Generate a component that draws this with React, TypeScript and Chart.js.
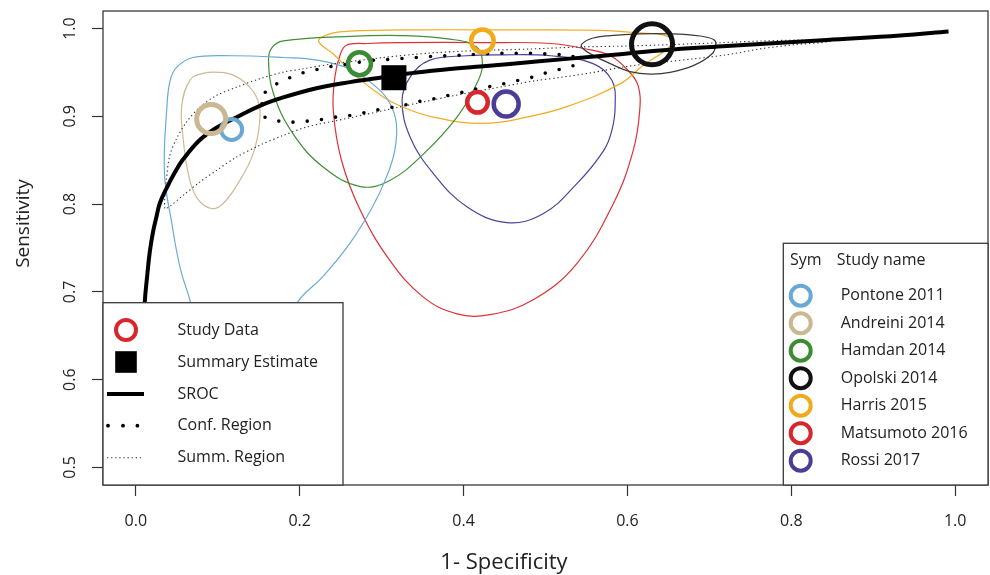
import React, { useEffect, useRef } from "react";
import { Chart, registerables } from "chart.js";

Chart.register(...registerables);

// ---------- data ----------
const xTickValues = [0, 0.2, 0.4, 0.6, 0.8, 1.0];
const yTickValues = [0.5, 0.6, 0.7, 0.8, 0.9, 1.0];
const xTitle = "1- Specificity";
const yTitle = "Sensitivity";

const studyNames = ["Pontone 2011", "Andreini 2014", "Hamdan 2014", "Opolski 2014", "Harris 2015", "Matsumoto 2016", "Rossi 2017"];
const studyFpr = [0.117, 0.092, 0.273, 0.630, 0.423, 0.417, 0.452];
const studySens = [0.885, 0.897, 0.960, 0.982, 0.986, 0.916, 0.914];

const summaryFpr = [0.315];
const summarySens = [0.944];

const srocFpr = [0.0098, 0.011, 0.014, 0.017, 0.021, 0.0256, 0.0293, 0.0375, 0.0476, 0.0578, 0.0781, 0.0985, 0.123, 0.1514, 0.1799, 0.2206, 0.2613, 0.302, 0.3427, 0.3834, 0.424, 0.489, 0.5706, 0.6398, 0.7213, 0.8433, 0.9328, 0.9918];
const srocSens = [0.656, 0.689, 0.719, 0.745, 0.768, 0.787, 0.801, 0.818, 0.836, 0.851, 0.873, 0.887, 0.899, 0.912, 0.9215, 0.932, 0.939, 0.9446, 0.950, 0.954, 0.957, 0.9625, 0.969, 0.975, 0.980, 0.987, 0.992, 0.9966];

const confRegion = [[0.158, 0.9275], [0.172, 0.937], [0.188, 0.944], [0.204, 0.9496], [0.221, 0.9534], [0.238, 0.9568], [0.255, 0.959], [0.273, 0.9617], [0.290, 0.9639], [0.307, 0.9647], [0.325, 0.9659], [0.343, 0.967], [0.360, 0.9681], [0.377, 0.9689], [0.395, 0.9696], [0.412, 0.9704], [0.429, 0.9712], [0.447, 0.9718], [0.464, 0.9718], [0.481, 0.9718], [0.499, 0.9712], [0.517, 0.9704], [0.530, 0.9695], [0.540, 0.9636], [0.534, 0.9579], [0.517, 0.9534], [0.499, 0.9491], [0.484, 0.9446], [0.466, 0.9408], [0.449, 0.9371], [0.432, 0.934], [0.416, 0.9314], [0.399, 0.9275], [0.381, 0.9238], [0.364, 0.920], [0.347, 0.9173], [0.330, 0.9132], [0.313, 0.9105], [0.296, 0.9075], [0.279, 0.9041], [0.261, 0.901], [0.244, 0.8991], [0.227, 0.8965], [0.209, 0.8945], [0.192, 0.8934], [0.175, 0.8945], [0.1575, 0.8991], [0.154, 0.9135]];

const summRegion = [[0.0354, 0.7952], [0.0375, 0.829], [0.0415, 0.8555], [0.0497, 0.8745], [0.0619, 0.8934], [0.0781, 0.9105], [0.0985, 0.9238], [0.123, 0.9332], [0.1514, 0.9428], [0.1799, 0.9503], [0.2043, 0.9542], [0.2409, 0.9598], [0.302, 0.967], [0.359, 0.9721], [0.420, 0.975], [0.481, 0.9767], [0.542, 0.979], [0.599, 0.9801], [0.6805, 0.9826], [0.762, 0.9858], [0.811, 0.9869], [0.850, 0.9863], [0.843, 0.9846], [0.803, 0.9815], [0.762, 0.9769], [0.721, 0.9701], [0.6805, 0.9655], [0.640, 0.9613], [0.599, 0.9568], [0.558, 0.950], [0.518, 0.9443], [0.489, 0.9408], [0.432, 0.9312], [0.383, 0.9226], [0.322, 0.9107], [0.261, 0.8982], [0.208, 0.8877], [0.180, 0.8783], [0.151, 0.8669], [0.123, 0.8536], [0.0985, 0.8384], [0.0781, 0.8251], [0.0578, 0.810], [0.0415, 0.7975]];

const pontoneRegion = [[0.050, 0.956], [0.070, 0.967], [0.118, 0.969], [0.180, 0.967], [0.221, 0.964], [0.261, 0.954], [0.294, 0.933], [0.310, 0.915], [0.318, 0.892], [0.316, 0.861], [0.306, 0.831], [0.289, 0.797], [0.261, 0.755], [0.228, 0.717], [0.198, 0.689], [0.176, 0.645], [0.151, 0.611], [0.127, 0.602], [0.097, 0.617], [0.076, 0.656], [0.066, 0.691], [0.054, 0.728], [0.044, 0.778], [0.035, 0.835], [0.038, 0.911], [0.042, 0.941]];
const andreiniRegion = [[0.103, 0.950], [0.119, 0.947], [0.135, 0.937], [0.149, 0.918], [0.151, 0.892], [0.143, 0.857], [0.127, 0.827], [0.107, 0.801], [0.092, 0.795], [0.074, 0.808], [0.064, 0.835], [0.058, 0.873], [0.056, 0.911], [0.066, 0.941], [0.082, 0.949]];
const hamdanRegion = [[0.180, 0.986], [0.261, 0.991], [0.322, 0.992], [0.383, 0.988], [0.416, 0.979], [0.423, 0.960], [0.416, 0.937], [0.392, 0.899], [0.351, 0.857], [0.310, 0.827], [0.274, 0.820], [0.229, 0.842], [0.192, 0.880], [0.168, 0.926], [0.162, 0.964], [0.166, 0.978]];
const opolskiRegion = [[0.544, 0.982], [0.557, 0.989], [0.579, 0.992], [0.615, 0.994], [0.652, 0.994], [0.689, 0.9915], [0.705, 0.9875], [0.708, 0.982], [0.703, 0.971], [0.681, 0.958], [0.652, 0.950], [0.628, 0.948], [0.603, 0.951], [0.579, 0.960], [0.557, 0.970], [0.546, 0.977]];
const harrisRegion = [[0.223, 0.986], [0.237, 0.994], [0.261, 0.997], [0.343, 0.9985], [0.444, 0.9985], [0.567, 0.998], [0.615, 0.995], [0.642, 0.993], [0.655, 0.986], [0.646, 0.975], [0.619, 0.958], [0.591, 0.937], [0.526, 0.911], [0.477, 0.899], [0.424, 0.892], [0.363, 0.899], [0.322, 0.912], [0.302, 0.922], [0.270, 0.945], [0.241, 0.971]];
const matsumotoRegion = [[0.257, 0.981], [0.282, 0.983], [0.322, 0.984], [0.424, 0.984], [0.506, 0.983], [0.548, 0.977], [0.579, 0.969], [0.601, 0.952], [0.613, 0.935], [0.615, 0.907], [0.607, 0.861], [0.583, 0.801], [0.538, 0.732], [0.485, 0.691], [0.432, 0.674], [0.392, 0.675], [0.351, 0.694], [0.310, 0.736], [0.274, 0.793], [0.251, 0.850], [0.241, 0.907], [0.243, 0.945], [0.249, 0.969]];
const rossiRegion = [[0.404, 0.969], [0.444, 0.970], [0.506, 0.969], [0.558, 0.960], [0.581, 0.941], [0.585, 0.912], [0.581, 0.884], [0.571, 0.861], [0.538, 0.823], [0.497, 0.789], [0.453, 0.779], [0.404, 0.797], [0.363, 0.835], [0.335, 0.876], [0.325, 0.918], [0.335, 0.945], [0.359, 0.964]];

const studyRegions = [pontoneRegion, andreiniRegion, hamdanRegion, opolskiRegion, harrisRegion, matsumotoRegion, rossiRegion];

const legendLabels = ["Study Data", "Summary Estimate", "SROC", "Conf. Region", "Summ. Region"];
const legendHeader = ["Sym", "Study name"];

// ---------- styles ----------
const FONT = "'Open Sans', 'DejaVu Sans', sans-serif";
const TEXT = "#222";
const studyColors = ["#68a8d4", "#cbb892", "#3b8c33", "#111111", "#f1a91e", "#d7262c", "#4b3c97"];
const regionColors = ["#6aaad6", "#cdba96", "#3f9037", "#3a3a3a", "#f2ab22", "#dc3236", "#4f4199"];
const markerRadius = [10.5, 14.5, 11.5, 20.5, 11.3, 10.3, 12.5];
const markerWidth = [4, 5, 4.5, 5, 4.5, 4.5, 4.5];

const toPts = (arr: number[][]) => arr.map(([x, y]) => ({ x, y }));

const closedLoopPlugin = {
  id: "closedLoop",
  afterDatasetUpdate(chart: any, args: any) {
    const ds: any = chart.data.datasets[args.index];
    const line = args.meta && args.meta.dataset;
    if (ds && ds.closedPath && line) {
      line._loop = true;
      line._fullLoop = true;
      line._pointsUpdated = false;
      line._segments = undefined;
      line._path = undefined;
      line.updateControlPoints(chart.chartArea, "x");
    }
  },
};

const decorPlugin = {
  id: "decor",
  afterDatasetsDraw(chart: any) {
    const { ctx, chartArea: ca } = chart;
    ctx.save();
    ctx.strokeStyle = "#3a3a3a";
    ctx.lineWidth = 1.3;
    ctx.strokeRect(ca.left, ca.top, ca.right - ca.left, ca.bottom - ca.top);
    ctx.restore();
  },
  afterDraw(chart: any) {
    const { ctx, chartArea: ca } = chart;
    ctx.save();
    // axis titles
    ctx.fillStyle = TEXT;
    ctx.textAlign = "center";
    ctx.textBaseline = "middle";
    ctx.font = `22px ${FONT}`;
    ctx.fillText(xTitle, 504, 563);
    ctx.save();
    ctx.translate(24, 223.5);
    ctx.rotate(-Math.PI / 2);
    ctx.font = `19px ${FONT}`;
    ctx.fillText(yTitle, 0, 0);
    ctx.restore();

    // left legend
    const lx = ca.left, lb = ca.bottom, lw = 240, lh = 182.3;
    ctx.fillStyle = "#fff";
    ctx.fillRect(lx, lb - lh, lw, lh);
    ctx.strokeStyle = "#3a3a3a";
    ctx.lineWidth = 1.3;
    ctx.strokeRect(lx, lb - lh, lw, lh);
    const rowY = [lb - 155, lb - 123, lb - 91, lb - 59.3, lb - 27.3];
    const symX = lx + 23;
    ctx.beginPath();
    ctx.arc(symX, rowY[0], 10, 0, Math.PI * 2);
    ctx.strokeStyle = studyColors[5];
    ctx.lineWidth = 4;
    ctx.stroke();
    ctx.fillStyle = "#000";
    ctx.fillRect(symX - 10.8, rowY[1] - 10.8, 21.6, 21.6);
    ctx.beginPath();
    ctx.moveTo(lx + 4, rowY[2]);
    ctx.lineTo(lx + 41, rowY[2]);
    ctx.strokeStyle = "#000";
    ctx.lineWidth = 4;
    ctx.stroke();
    ctx.fillStyle = "#000";
    [lx + 5, lx + 20, lx + 34.4].forEach((x) => {
      ctx.beginPath();
      ctx.arc(x, rowY[3], 1.9, 0, Math.PI * 2);
      ctx.fill();
    });
    ctx.beginPath();
    ctx.setLineDash([1.3, 2.8]);
    ctx.moveTo(lx + 4, rowY[4]);
    ctx.lineTo(lx + 41, rowY[4]);
    ctx.strokeStyle = "#333";
    ctx.lineWidth = 1.1;
    ctx.stroke();
    ctx.setLineDash([]);
    ctx.fillStyle = TEXT;
    ctx.font = `16px ${FONT}`;
    ctx.textAlign = "left";
    ctx.textBaseline = "middle";
    legendLabels.forEach((t, i) => ctx.fillText(t, lx + 74.5, rowY[i]));

    // right legend
    const rx = 783.3, rt = 243.3, rr = ca.right, rb = ca.bottom;
    ctx.fillStyle = "#fff";
    ctx.fillRect(rx, rt, rr - rx, rb - rt);
    ctx.strokeStyle = "#3a3a3a";
    ctx.lineWidth = 1.3;
    ctx.strokeRect(rx, rt, rr - rx, rb - rt);
    ctx.fillStyle = TEXT;
    ctx.font = `16px ${FONT}`;
    ctx.fillText(legendHeader[0], rx + 6.7, rt + 17);
    ctx.fillText(legendHeader[1], rx + 53.4, rt + 17);
    studyNames.forEach((name, i) => {
      const y = rt + 52.4 + i * 27.5;
      ctx.beginPath();
      ctx.arc(rx + 17.4, y, 10, 0, Math.PI * 2);
      ctx.strokeStyle = studyColors[i];
      ctx.lineWidth = 4;
      ctx.stroke();
      ctx.fillStyle = TEXT;
      ctx.fillText(name, rx + 57.4, y);
    });
    ctx.restore();
  },
};

const zeroPadding = (s: any) => {
  s.paddingTop = 0;
  s.paddingBottom = 0;
  s.paddingLeft = 0;
  s.paddingRight = 0;
};

export default function App() {
  const ref = useRef<HTMLCanvasElement>(null);
  useEffect(() => {
    const canvas = ref.current;
    if (!canvas) return;

    const regionSets = studyRegions.map((r, i) => ({
      label: studyNames[i] + " region",
      data: toPts(r),
      showLine: true,
      closedPath: true,
      borderColor: regionColors[i],
      borderWidth: 1.2,
      pointRadius: 0,
      tension: 0.4,
      fill: false,
      order: 10,
    }));

    const datasets: any[] = [
      ...regionSets,
      {
        label: "Summ. Region",
        data: toPts(summRegion),
        showLine: true,
        closedPath: true,
        borderColor: "#333",
        borderWidth: 1.1,
        borderDash: [1.3, 2.8],
        pointRadius: 0,
        tension: 0.3,
        fill: false,
        order: 8,
      },
      {
        label: "Conf. Region",
        data: toPts(confRegion),
        showLine: true,
        closedPath: true,
        borderColor: "#000",
        borderWidth: 3.6,
        borderDash: [0, 14.3],
        borderCapStyle: "round",
        pointRadius: 0,
        tension: 0.3,
        fill: false,
        order: 7,
      },
      {
        label: "SROC",
        data: srocFpr.map((x, i) => ({ x, y: srocSens[i] })),
        showLine: true,
        borderColor: "#000",
        borderWidth: 4,
        pointRadius: 0,
        tension: 0.4,
        fill: false,
        order: 6,
      },
      {
        label: "Study Data",
        data: studyFpr.map((x, i) => ({ x, y: studySens[i] })),
        showLine: false,
        pointStyle: "circle",
        pointRadius: markerRadius,
        pointBorderWidth: markerWidth,
        pointBorderColor: studyColors,
        pointBackgroundColor: "rgba(0,0,0,0)",
        order: 2,
      },
      {
        label: "Summary Estimate",
        data: summaryFpr.map((x, i) => ({ x, y: summarySens[i] })),
        showLine: false,
        pointStyle: "rect",
        pointRadius: 17.7,
        pointBorderWidth: 0,
        pointBackgroundColor: "#000",
        pointBorderColor: "#000",
        order: 1,
      },
    ];

    const tickFont = { family: FONT, size: 16 };
    const chart = new Chart(canvas, {
      type: "scatter",
      data: { datasets },
      options: {
        responsive: true,
        maintainAspectRatio: false,
        animation: false,
        events: [],
        layout: { autoPadding: false, padding: { left: 0, top: 11, right: 2, bottom: 0 } },
        plugins: { legend: { display: false }, tooltip: { enabled: false } },
        scales: {
          x: {
            type: "linear",
            min: -0.04,
            max: 1.04,
            afterBuildTicks: (s: any) => {
              s.ticks = xTickValues.map((v) => ({ value: v }));
            },
            afterFit: (s: any) => {
              s.height = 90;
              zeroPadding(s);
            },
            grid: { drawOnChartArea: false, drawTicks: true, tickLength: 11, tickColor: "#333", tickWidth: 1.2 },
            border: { display: false },
            ticks: {
              font: tickFont,
              color: TEXT,
              padding: 16,
              minRotation: 0,
              maxRotation: 0,
              autoSkip: false,
              callback: (v: any) => Number(v).toFixed(1),
            },
          },
          y: {
            type: "linear",
            min: 0.48,
            max: 1.02,
            afterBuildTicks: (s: any) => {
              s.ticks = yTickValues.map((v) => ({ value: v }));
            },
            afterFit: (s: any) => {
              s.width = 103;
              zeroPadding(s);
            },
            grid: { drawOnChartArea: false, drawTicks: true, tickLength: 11, tickColor: "#333", tickWidth: 1.2 },
            border: { display: false },
            ticks: {
              font: tickFont,
              color: TEXT,
              padding: 10,
              minRotation: 90,
              maxRotation: 90,
              crossAlign: "center",
              autoSkip: false,
              callback: (v: any) => Number(v).toFixed(1),
            },
          },
        },
      } as any,
      plugins: [closedLoopPlugin, decorPlugin],
    });
    return () => chart.destroy();
  }, []);

  return (
    <div style={{ position: "absolute", left: 0, top: 0, width: 990, height: 575, background: "#fff" }}>
      <canvas ref={ref} />
    </div>
  );
}
